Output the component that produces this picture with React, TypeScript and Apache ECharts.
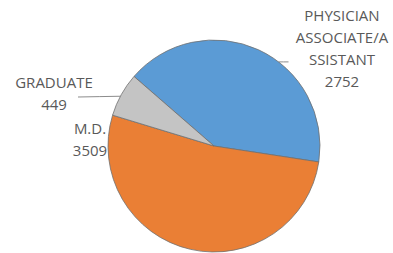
import React, { useEffect, useRef } from "react";
import * as echarts from "echarts";

const categories = ["PHYSICIAN ASSOCIATE/ASSISTANT", "M.D.", "GRADUATE"];
const labelTexts = ["PHYSICIAN\nASSOCIATE/A\nSSISTANT", "M.D.", "GRADUATE"];
const values = [2752, 3509, 449];
const colors = ["#5B9BD5", "#EA7F35", "#C4C4C4"];

export default function App() {
  const ref = useRef<HTMLDivElement>(null);
  useEffect(() => {
    document.body.style.margin = "0";
    const chart = echarts.init(ref.current!, null, { renderer: "svg" });
    const cx = 214;
    const cy = 146;
    const r = 106;
    const edge = (deg: number) => {
      const a = (deg * Math.PI) / 180;
      return [cx + r * Math.cos(a), cy - r * Math.sin(a)];
    };
    const paStart = edge(52.5);
    const grStart = edge(152);
    const labelPos: any[] = [
      {
        x: 342,
        y: 4,
        align: "center",
        verticalAlign: "top",
        labelLinePoints: [paStart, [paStart[0] + 5, paStart[1]], [paStart[0] + 10, paStart[1]]],
      },
      { x: 90, y: 117, align: "center", verticalAlign: "top" },
      {
        x: 54,
        y: 71,
        align: "center",
        verticalAlign: "top",
        labelLinePoints: [grStart, [(grStart[0] + 78) / 2, (grStart[1] + 97) / 2], [78, 97]],
      },
    ];
    chart.setOption({
      animation: false,
      backgroundColor: "#ffffff",
      series: [
        {
          type: "pie",
          center: [cx, cy],
          radius: r,
          startAngle: 139,
          clockwise: true,
          data: categories.map((c, i) => ({
            name: c,
            value: values[i],
            itemStyle: { color: colors[i] },
            labelLine: { show: i !== 1 },
          })),
          itemStyle: { borderColor: "#707070", borderWidth: 0.8 },
          label: {
            show: true,
            formatter: (p: any) => labelTexts[p.dataIndex] + "\n" + p.value,
            fontFamily: "Open Sans",
            fontSize: 15,
            lineHeight: 22,
            color: "#595959",
            align: "center",
          },
          labelLine: {
            show: true,
            length: 8,
            length2: 4,
            lineStyle: { color: "#8c8c8c", width: 1 },
          },
          labelLayout: (p: any) => labelPos[p.dataIndex],
        },
      ],
    });
    return () => chart.dispose();
  }, []);
  return <div ref={ref} style={{ width: 393, height: 253 }} />;
}
